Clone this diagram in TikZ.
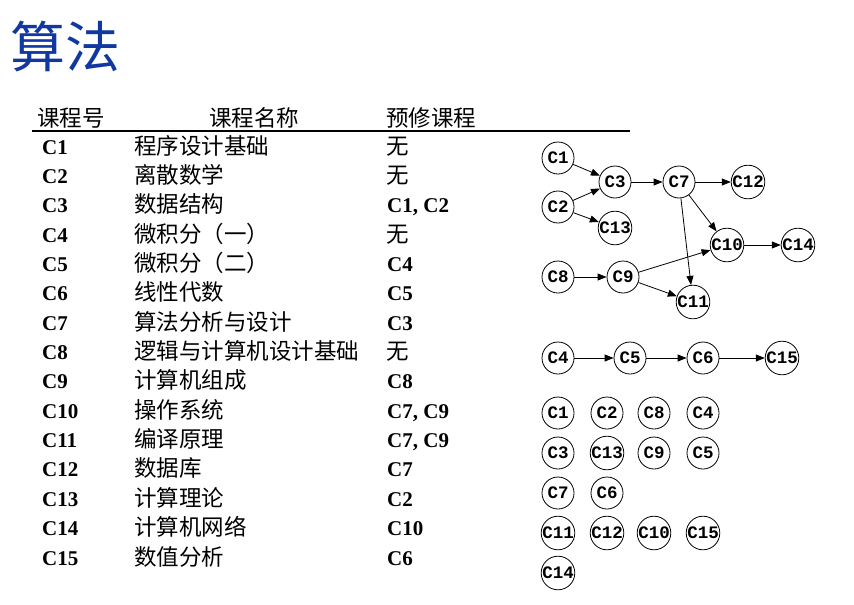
\documentclass[tikz,border=0pt]{standalone}
\usepackage{fontspec}
\setmainfont{Liberation Serif}
\newfontfamily\cjk{Noto Sans CJK SC}
\newfontfamily\monof{Liberation Mono}
\usetikzlibrary{arrows.meta}
\definecolor{titleblue}{RGB}{16,56,160}
\tikzset{
  course/.style={draw, circle, minimum size=32pt, inner sep=0pt, line width=0.8pt,
    font=\monof\bfseries\fontsize{17.5}{17.5}\selectfont},
  dep/.style={-{Triangle[length=9pt,width=7pt]}, line width=0.8pt},
  cell/.style={anchor=base west, inner sep=0pt},
  cid/.style={cell, font=\bfseries\fontsize{21}{24}\selectfont},
  cname/.style={cell, font=\cjk\fontsize{22.5}{24}\selectfont},
}
\begin{document}
\begin{tikzpicture}[x=1pt,y=-1pt]
\useasboundingbox (0,0) rectangle (854,605);
\node[anchor=base west, inner sep=0pt, text=titleblue, font=\cjk\fontsize{55}{60}\selectfont] (title) at (10,67) {算法};
% header
\node[cname] (h1) at (37,126) {课程号};
\node[cname] (h2) at (209,126) {课程名称};
\node[cname] (h3) at (386,126) {预修课程};
\coordinate (ruleL) at (32,131);
\coordinate (ruleR) at (630,131);
\draw[line width=1.6pt] (ruleL) -- (ruleR);
% rows
\foreach \i/\nm/\pre/\cj [count=\k from 0] in {
 1/程序设计基础/无/1, 2/离散数学/无/1, 3/数据结构/{C1, C2}/0, 4/微积分（一）/无/1,
 5/微积分（二）/C4/0, 6/线性代数/C5/0, 7/算法分析与设计/C3/0, 8/逻辑与计算机设计基础/无/1,
 9/计算机组成/C8/0, 10/操作系统/{C7, C9}/0, 11/编译原理/{C7, C9}/0, 12/数据库/C7/0,
 13/计算理论/C2/0, 14/计算机网络/C10/0, 15/数值分析/C6/0}{
  \pgfmathsetmacro{\yy}{154+29.36*\k}
  \node[cid] (id\i) at (42,\yy) {C\i};
  \node[cname] (nm\i) at (134,\yy) {\nm};
  \ifnum\cj=1
    \node[cname] (pr\i) at (386,\yy) {\pre};
  \else
    \node[cid] (pr\i) at (387,\yy) {\pre};
  \fi
}
% graph
\node[course] (g1) at (558,158) {C1};
\node[course] (g2) at (558,207) {C2};
\node[course] (g3) at (615,182) {C3};
\node[course] (g13) at (615,228) {C13};
\node[course] (g7) at (679,182) {C7};
\node[course] (g12) at (748,182) {C12};
\node[course] (g10) at (727,245) {C10};
\node[course] (g14) at (798,245) {C14};
\node[course] (g8) at (558,277) {C8};
\node[course] (g9) at (623,277) {C9};
\node[course] (g11) at (693,302) {C11};
\node[course] (g4) at (558,358) {C4};
\node[course] (g5) at (630,358) {C5};
\node[course] (g6) at (703,358) {C6};
\node[course] (g15) at (782,358) {C15};
\draw[dep] (g1) -- (g3);
\draw[dep] (g2) -- (g3);
\draw[dep] (g2) -- (g13);
\draw[dep] (g3) -- (g7);
\draw[dep] (g7) -- (g12);
\draw[dep] (g7) -- (g10);
\draw[dep] (g7) -- (g11);
\draw[dep] (g10) -- (g14);
\draw[dep] (g8) -- (g9);
\draw[dep] (g9) -- (g10);
\draw[dep] (g9) -- (g11);
\draw[dep] (g4) -- (g5);
\draw[dep] (g5) -- (g6);
\draw[dep] (g6) -- (g15);
% topological order grid
\node[course] (t1) at (558,413) {C1};
\node[course] (t2) at (607,413) {C2};
\node[course] (t8) at (654,413) {C8};
\node[course] (t4) at (703,413) {C4};
\node[course] (t3) at (558,453) {C3};
\node[course] (t13) at (607,453) {C13};
\node[course] (t9) at (654,453) {C9};
\node[course] (t5) at (703,453) {C5};
\node[course] (t7) at (558,493) {C7};
\node[course] (t6) at (607,493) {C6};
\node[course] (t11) at (558,533) {C11};
\node[course] (t12) at (607,533) {C12};
\node[course] (t10) at (654,533) {C10};
\node[course] (t15) at (703,533) {C15};
\node[course] (t14) at (558,573) {C14};
\end{tikzpicture}
\end{document}
